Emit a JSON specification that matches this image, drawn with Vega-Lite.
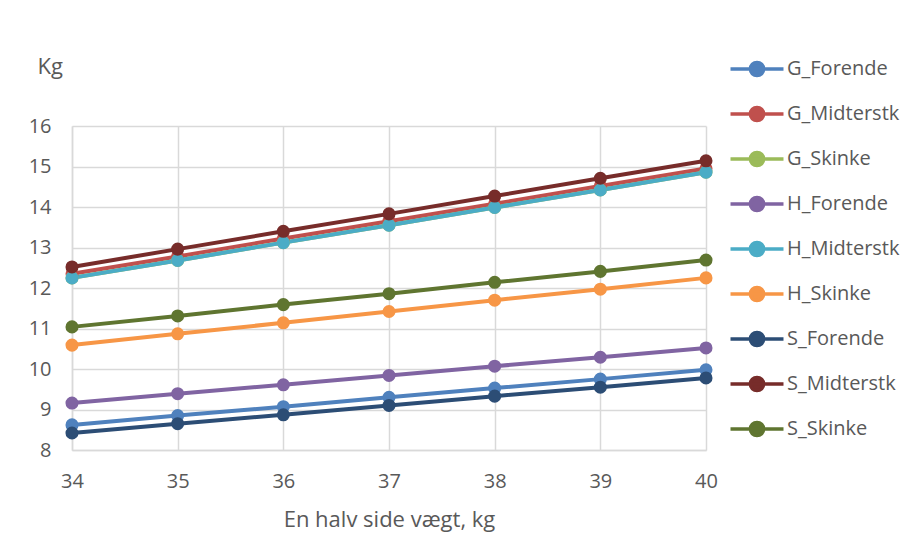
{
  "$schema": "https://vega.github.io/schema/vega-lite/v6.json",
  "width": 634,
  "height": 324,
  "autosize": "none",
  "padding": {"left": 72, "top": 126, "right": 217, "bottom": 101},
  "background": "white",
  "config": {
    "font": "Open Sans",
    "view": {"stroke": null},
    "axis": {"labelColor": "#595959", "titleColor": "#595959", "gridColor": "#d9d9d9", "gridWidth": 1.5, "domainColor": "#d9d9d9", "domainWidth": 1.5, "ticks": false, "labelFont": "Open Sans", "titleFont": "Open Sans", "titleFontWeight": "normal", "labelFlush": false, "labelOverlap": false}
  },
  "data": {"values": [
    {"x":34,"series":"G_Forende","kg":8.62},{"x":35,"series":"G_Forende","kg":8.85},{"x":36,"series":"G_Forende","kg":9.07},{"x":37,"series":"G_Forende","kg":9.30},{"x":38,"series":"G_Forende","kg":9.53},{"x":39,"series":"G_Forende","kg":9.75},{"x":40,"series":"G_Forende","kg":9.98},
    {"x":34,"series":"G_Midterstk","kg":12.35},{"x":35,"series":"G_Midterstk","kg":12.78},{"x":36,"series":"G_Midterstk","kg":13.22},{"x":37,"series":"G_Midterstk","kg":13.65},{"x":38,"series":"G_Midterstk","kg":14.08},{"x":39,"series":"G_Midterstk","kg":14.52},{"x":40,"series":"G_Midterstk","kg":14.95},
    {"x":34,"series":"G_Skinke","kg":12.25},{"x":35,"series":"G_Skinke","kg":12.68},{"x":36,"series":"G_Skinke","kg":13.12},{"x":37,"series":"G_Skinke","kg":13.55},{"x":38,"series":"G_Skinke","kg":13.99},{"x":39,"series":"G_Skinke","kg":14.42},{"x":40,"series":"G_Skinke","kg":14.86},
    {"x":34,"series":"H_Forende","kg":9.16},{"x":35,"series":"H_Forende","kg":9.39},{"x":36,"series":"H_Forende","kg":9.61},{"x":37,"series":"H_Forende","kg":9.84},{"x":38,"series":"H_Forende","kg":10.07},{"x":39,"series":"H_Forende","kg":10.29},{"x":40,"series":"H_Forende","kg":10.52},
    {"x":34,"series":"H_Midterstk","kg":12.25},{"x":35,"series":"H_Midterstk","kg":12.68},{"x":36,"series":"H_Midterstk","kg":13.12},{"x":37,"series":"H_Midterstk","kg":13.55},{"x":38,"series":"H_Midterstk","kg":13.99},{"x":39,"series":"H_Midterstk","kg":14.42},{"x":40,"series":"H_Midterstk","kg":14.86},
    {"x":34,"series":"H_Skinke","kg":10.59},{"x":35,"series":"H_Skinke","kg":10.87},{"x":36,"series":"H_Skinke","kg":11.14},{"x":37,"series":"H_Skinke","kg":11.42},{"x":38,"series":"H_Skinke","kg":11.70},{"x":39,"series":"H_Skinke","kg":11.97},{"x":40,"series":"H_Skinke","kg":12.25},
    {"x":34,"series":"S_Forende","kg":8.42},{"x":35,"series":"S_Forende","kg":8.65},{"x":36,"series":"S_Forende","kg":8.87},{"x":37,"series":"S_Forende","kg":9.10},{"x":38,"series":"S_Forende","kg":9.33},{"x":39,"series":"S_Forende","kg":9.55},{"x":40,"series":"S_Forende","kg":9.78},
    {"x":34,"series":"S_Midterstk","kg":12.52},{"x":35,"series":"S_Midterstk","kg":12.96},{"x":36,"series":"S_Midterstk","kg":13.40},{"x":37,"series":"S_Midterstk","kg":13.83},{"x":38,"series":"S_Midterstk","kg":14.27},{"x":39,"series":"S_Midterstk","kg":14.71},{"x":40,"series":"S_Midterstk","kg":15.14},
    {"x":34,"series":"S_Skinke","kg":11.04},{"x":35,"series":"S_Skinke","kg":11.31},{"x":36,"series":"S_Skinke","kg":11.59},{"x":37,"series":"S_Skinke","kg":11.86},{"x":38,"series":"S_Skinke","kg":12.14},{"x":39,"series":"S_Skinke","kg":12.41},{"x":40,"series":"S_Skinke","kg":12.69}
  ]},
  "mark": {"type": "line", "strokeWidth": 4, "point": {"filled": true, "size": 170, "opacity": 1}},
  "encoding": {
    "x": {"field": "x", "type": "quantitative", "scale": {"domain": [34, 40], "nice": false, "zero": false},
      "axis": {"values": [34,35,36,37,38,39,40], "labelFontSize": 20, "labelPadding": 21, "title": "En halv side vægt, kg", "titleFontSize": 22, "titlePadding": 18}},
    "y": {"field": "kg", "type": "quantitative", "scale": {"domain": [8, 16], "nice": false, "zero": false},
      "axis": {"values": [8,9,10,11,12,13,14,15,16], "labelFontSize": 20, "labelPadding": 21, "title": "Kg", "titleFontSize": 22, "titleAngle": 0, "titleAlign": "left", "titleBaseline": "middle", "titleX": -35, "titleY": -60}},
    "color": {"field": "series", "type": "nominal",
      "scale": {"domain": ["G_Forende","G_Midterstk","G_Skinke","H_Forende","H_Midterstk","H_Skinke","S_Forende","S_Midterstk","S_Skinke"],
        "range": ["#4F81BD","#C0504D","#9BBB59","#8064A2","#4BACC6","#F79646","#2C4D75","#772C2A","#5F7530"]},
      "legend": {"title": null, "orient": "none", "legendX": 674, "legendY": -68, "padding": 0,
        "symbolType": "M-3,0H3M0.75,0A0.75,0.75,0,1,1,-0.75,0A0.75,0.75,0,1,1,0.75,0Z",
        "symbolSize": 312, "symbolStrokeWidth": 3.5, "labelOffset": 19, "labelFontSize": 20, "labelColor": "#595959", "labelFont": "Open Sans", "rowPadding": 17,
        "encode": {"symbols": {"update": {"fill": {"signal": "scale('color', datum.value)"}, "stroke": {"signal": "scale('color', datum.value)"}, "opacity": {"value": 1}}}}}}
  }
}
